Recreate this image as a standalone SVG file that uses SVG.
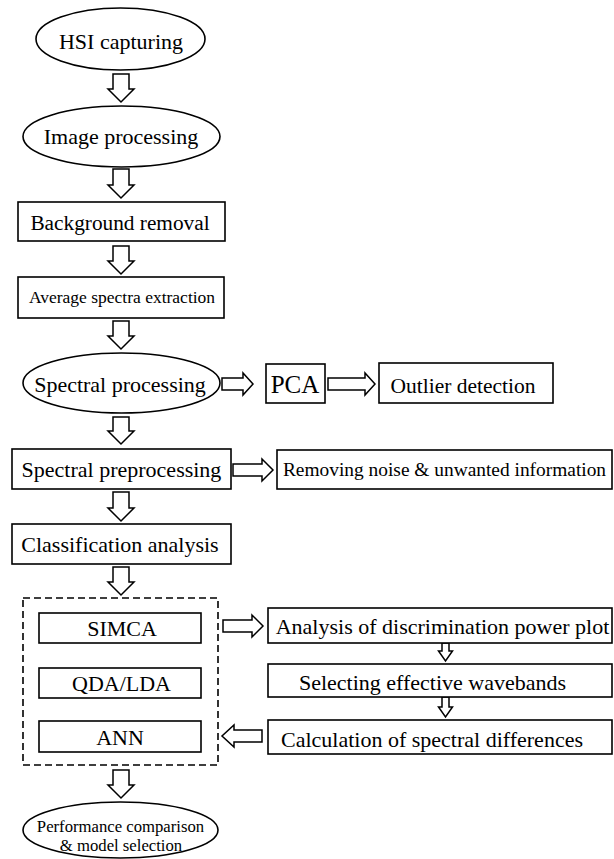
<svg xmlns="http://www.w3.org/2000/svg" width="614" height="859" viewBox="0 0 614 859">
<style>
.s{fill:#fff;stroke:#000;stroke-width:1.6}
.d{fill:none;stroke:#000;stroke-width:1.6;stroke-dasharray:7 4}
.a{fill:#fff;stroke:#000;stroke-width:1.5;stroke-linejoin:miter}
text{font-family:"Liberation Serif","Times New Roman",serif;fill:#000;text-anchor:middle}
.f22{font-size:22px}
</style>
<rect width="614" height="859" fill="#fff"/>
<g id="connectors">
<path class="a" d="M113,74 H129 V89 H134 L121,102 L108,89 H113 Z"/>
<path class="a" d="M113,169 H129 V185 H134 L121,198 L108,185 H113 Z"/>
<path class="a" d="M113,246 H129 V261 H134 L121,274 L108,261 H113 Z"/>
<path class="a" d="M113,321 H129 V336 H134 L121,349 L108,336 H113 Z"/>
<path class="a" d="M113,417 H129 V431 H134 L121,444 L108,431 H113 Z"/>
<path class="a" d="M113,492 H129 V508 H134 L121,521 L108,508 H113 Z"/>
<path class="a" d="M113,567 H129 V582 H134 L121,595 L108,582 H113 Z"/>
<path class="a" d="M113,770 H129 V785 H134 L121,798 L108,785 H113 Z"/>
<path class="a" d="M222,378 H243 V373 L253,384 L243,395 V390 H222 Z"/>
<path class="a" d="M328,378 H365 V373 L375,384 L365,395 V390 H328 Z"/>
<path class="a" d="M233,464 H262 V459 L273,470 L262,481 V476 H233 Z"/>
<path class="a" d="M223,620 H252 V615 L263,626 L252,637 V632 H223 Z"/>
<path class="a" d="M262,730 H234 V725 L222,736 L234,747 V742 H262 Z"/>
<path class="a" d="M442,643 H449 V651 H452.5 L445.5,661 L438.5,651 H442 Z"/>
<path class="a" d="M442,697 H449 V707 H452.5 L445.5,717 L438.5,707 H442 Z"/>
</g>
<g id="hsi"><ellipse class="s" cx="120.5" cy="39" rx="84.5" ry="31"/><text class="f22" x="121" y="49">HSI capturing</text></g>
<g id="imgproc"><ellipse class="s" cx="121.5" cy="136.5" rx="98.5" ry="30.5"/><text class="f22" x="121" y="144">Image processing</text></g>
<g id="bgremoval"><rect class="s" x="18" y="202" width="207" height="39"/><text x="120" y="230" font-size="21.3">Background removal</text></g>
<g id="avgspectra"><rect class="s" x="18" y="277" width="206" height="41"/><text x="122" y="303" font-size="17.5">Average spectra extraction</text></g>
<g id="specproc"><ellipse class="s" cx="121.5" cy="383" rx="98.5" ry="30"/><text class="f22" x="120" y="392">Spectral processing</text></g>
<g id="pca"><rect class="s" x="266" y="364" width="59" height="39"/><text x="295" y="393" font-size="25">PCA</text></g>
<g id="outlier"><rect class="s" x="379" y="363" width="174" height="40"/><text x="463" y="393" font-size="21.5">Outlier detection</text></g>
<g id="specpre"><rect class="s" x="12" y="449" width="219" height="40"/><text class="f22" x="121.5" y="477">Spectral preprocessing</text></g>
<g id="noise"><rect class="s" x="277" y="450" width="335" height="39"/><text x="444.5" y="476" font-size="19.4">Removing noise &amp; unwanted information</text></g>
<g id="classif"><rect class="s" x="12" y="524" width="219" height="40"/><text class="f22" x="120" y="552">Classification analysis</text></g>
<g id="models"><rect class="d" x="23" y="598" width="195" height="167"/></g>
<g id="simca"><rect class="s" x="39" y="613" width="162" height="30"/><text class="f22" x="122" y="636">SIMCA</text></g>
<g id="qda"><rect class="s" x="39" y="668" width="162" height="30"/><text class="f22" x="121.5" y="691">QDA/LDA</text></g>
<g id="ann"><rect class="s" x="39" y="721" width="162" height="31"/><text class="f22" x="120" y="745">ANN</text></g>
<g id="dpp"><rect class="s" x="268" y="608" width="344" height="35"/><text class="f22" x="442.5" y="634">Analysis of discrimination power plot</text></g>
<g id="waveband"><rect class="s" x="268" y="664" width="344" height="33"/><text class="f22" x="432.5" y="690">Selecting effective wavebands</text></g>
<g id="calc"><rect class="s" x="268" y="720" width="344" height="34"/><text class="f22" x="432" y="747">Calculation of spectral differences</text></g>
<g id="perf"><ellipse class="s" cx="120.5" cy="830" rx="97.5" ry="28"/><text x="120.5" y="832" font-size="16.7">Performance comparison</text><text x="121" y="851" font-size="16.7">&amp; model selection</text></g>
</svg>
